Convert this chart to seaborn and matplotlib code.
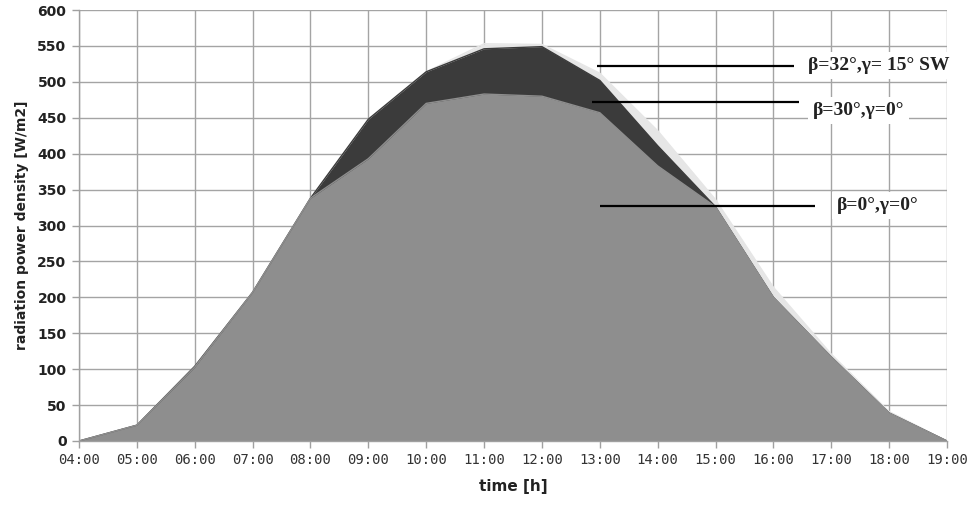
import matplotlib
matplotlib.use("Agg")
import matplotlib.pyplot as plt
import seaborn as sns
import pandas as pd

hours = list(range(4, 20))
hour_labels = [f"{h:02d}:00" for h in hours]
y_ticks = list(range(0, 601, 50))

beta32_gamma15 = [0, 22, 104, 207, 338, 448, 514, 553, 552, 512, 432, 336, 214, 121, 41, 0]
beta30_gamma0 = [0, 22, 104, 207, 338, 448, 514, 546, 549, 502, 411, 326, 200, 117, 39, 0]
beta0_gamma0 = [0, 22, 103, 207, 338, 393, 470, 483, 480, 457, 383, 326, 200, 117, 39, 0]

series_names = ["β=32°,γ= 15° SW", "β=30°,γ=0°", "β=0°,γ=0°"]
series_vals = [beta32_gamma15, beta30_gamma0, beta0_gamma0]
colors = ["#e6e6e6", "#3b3b3b", "#8e8e8e"]

sns.set_theme(style="whitegrid")
plt.rcParams["font.family"] = ["DejaVu Sans"]

fig = plt.figure(figsize=(9.77, 5.07), dpi=100)
ax = fig.add_axes([79 / 977, 1 - 441 / 507, (947 - 79) / 977, (441 - 10) / 507])

for i, (name, vals, c) in enumerate(zip(series_names, series_vals, colors)):
    df = pd.DataFrame({"hour": hours, "value": vals})
    ax.fill_between(df["hour"], df["value"], 0, color=c, linewidth=0, zorder=2 + i * 0.2)
    sns.lineplot(data=df, x="hour", y="value", color=c, linewidth=1.0, ax=ax, zorder=2.1 + i * 0.2)

ax.set_xlim(4, 19)
ax.set_ylim(0, 600)
ax.set_xticks(hours)
ax.set_xticklabels(hour_labels, family="DejaVu Sans Mono", fontsize=10, color="#333333")
ax.set_yticks(y_ticks)
ax.set_yticklabels([str(v) for v in y_ticks], fontsize=10, color="#222222", fontweight="bold")
ax.grid(True, color="#a4a4a4", linewidth=1.0, zorder=0)
ax.set_axisbelow(True)
for s in ["top", "right"]:
    ax.spines[s].set_visible(False)
for s in ["left", "bottom"]:
    ax.spines[s].set_color("#a0a0a0")
    ax.spines[s].set_linewidth(1.0)
    ax.spines[s].set_zorder(4)
ax.tick_params(axis="both", which="major", length=5, width=1, color="#a0a0a0", direction="out",
               bottom=True, left=True, pad=4)

ax.set_xlabel("time [h]", fontsize=11, fontweight="bold", color="#222222", labelpad=8)
ax.set_ylabel("radiation power density [W/m2]", fontsize=10, fontweight="bold", color="#222222", labelpad=6)

# annotation lines
ax.plot([12.95, 16.36], [522, 522], color="black", lw=1.6, zorder=6, solid_capstyle="butt")
ax.plot([12.86, 16.44], [472, 472], color="black", lw=1.6, zorder=6, solid_capstyle="butt")
ax.plot([13.0, 16.72], [327, 327], color="black", lw=1.6, zorder=6, solid_capstyle="butt")

tkw = dict(family=["Liberation Serif", "DejaVu Serif"], fontsize=14, fontweight="bold", color="#222222",
           va="center", ha="left", zorder=7, clip_on=False,
           bbox=dict(boxstyle="square,pad=0.25", facecolor="white", edgecolor="none"))
ax.text(16.6, 523, series_names[0], **tkw)
ax.text(16.68, 460, series_names[1], **tkw)
ax.text(17.1, 328, series_names[2], **tkw)

fig.savefig("out.png", dpi=100)
